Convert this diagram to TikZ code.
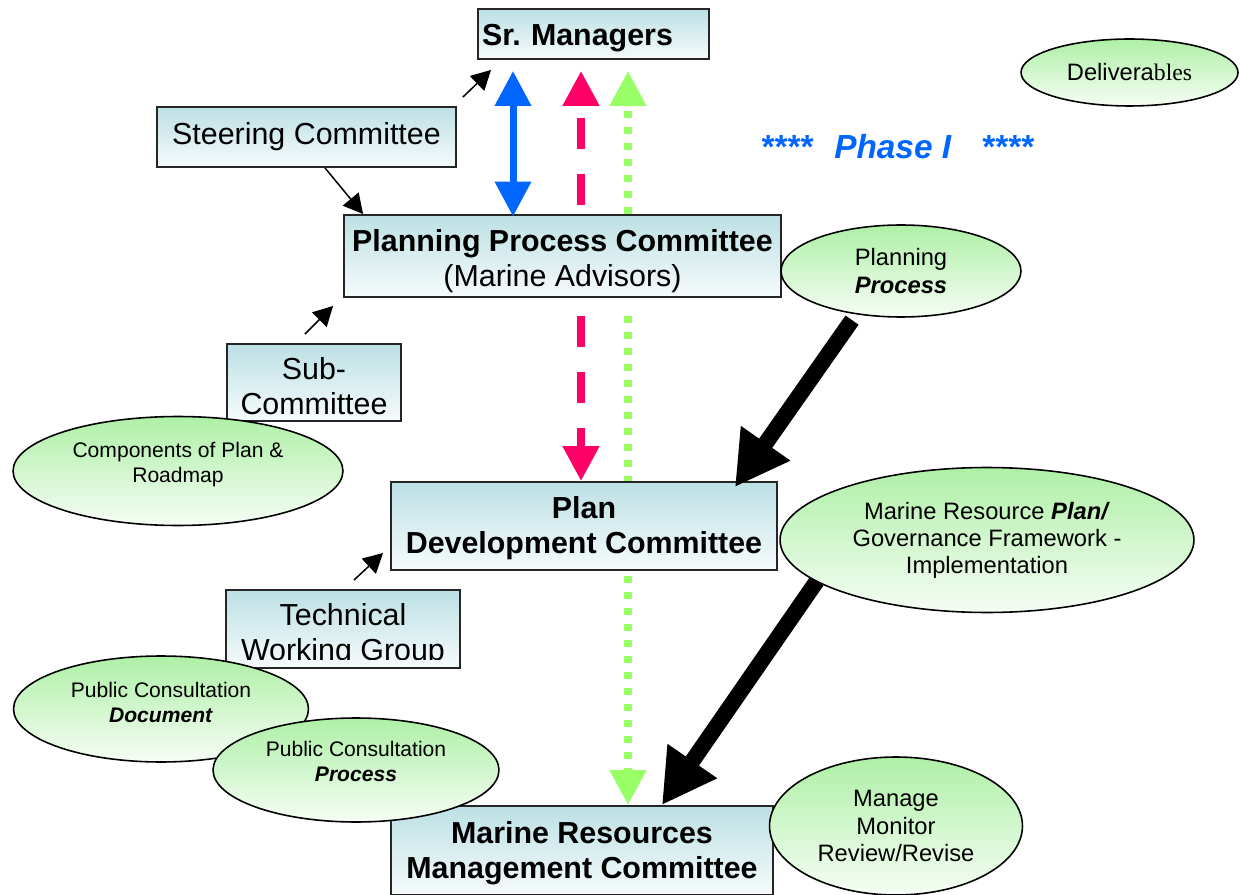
\documentclass[tikz,border=0pt]{standalone}
\usepackage{fontspec}
\setmainfont{Liberation Sans}
\newfontfamily\timesf{Liberation Serif}
\usetikzlibrary{arrows.meta,shapes.geometric}
\definecolor{boxtop}{RGB}{188,224,228}
\definecolor{boxbot}{RGB}{246,251,252}
\definecolor{elltop}{RGB}{174,240,166}
\definecolor{ellbot}{RGB}{246,253,245}
\definecolor{pblue}{RGB}{0,102,255}
\definecolor{ppink}{RGB}{255,0,102}
\definecolor{pgreen}{RGB}{153,255,102}
\tikzset{colhead/.tip={Triangle[length=0.7cm,width=0.7cm]}}
\begin{document}
\frenchspacing
\begin{tikzpicture}[x=0.02cm,y=-0.02cm,
  boxfont/.style={font=\fontsize{17.3}{20}\selectfont},
  boldboxfont/.style={font=\bfseries\fontsize{17.3}{20}\selectfont},
  cbox/.style={draw=black!85,line width=1.1pt,top color=boxtop,bottom color=boxbot,
    rectangle,inner sep=0pt,align=center,boxfont},
  dell/.style={draw=black,line width=0.9pt,top color=elltop,bottom color=ellbot,
    ellipse,inner sep=0pt,align=center,font=\fontsize{13.5}{15.4}\selectfont},
  sell/.style={dell,font=\fontsize{12}{14.2}\selectfont},
  smallarrow/.style={line width=0.85pt,-{Triangle[length=0.39cm,width=0.41cm]}},
  bigarrow/.style={line width=0.32cm,-{Triangle[length=1.07cm,width=1.13cm]}},
  pinkline/.style={ppink,line width=0.16cm,dash pattern=on 0.62cm off 0.5cm},
  greenline/.style={pgreen,line width=0.16cm,dash pattern=on 0.14cm off 0.18cm},
]
\useasboundingbox (0,0) rectangle (1241,895);

% boxes
\node[cbox,minimum width=4.62cm,minimum height=1.0cm,text width=4.46cm,align=left,boldboxfont,text height=0.6cm] (sr) at (593.5,34) {Sr.\ Managers};
\node[cbox,minimum width=5.98cm,minimum height=1.2cm] (steer) at (306.5,137) {Steering Committee};
\node[cbox,minimum width=8.74cm,minimum height=1.64cm,text height=1.34cm] (ppc) at (562.5,256) {\textbf{Planning Process Committee}\\(Marine Advisors)};
\node[cbox,minimum width=3.48cm,minimum height=1.54cm,text height=1.3cm] (sub) at (314,382.5) {Sub-\\Committee};
\node[cbox,minimum width=7.72cm,minimum height=1.76cm,boldboxfont,text height=1.22cm] (pdc) at (584,526) {Plan\\Development Committee};
\node[cbox,minimum width=4.68cm,minimum height=1.56cm] (tech) at (343,629) {};
\begin{scope}
  \clip (226,590) rectangle (460,659);
  \node[align=center,boxfont,inner sep=0pt] (techtext) at (343,635.5) {Technical\\Working Group};
\end{scope}
\node[cbox,minimum width=7.64cm,minimum height=1.78cm,boldboxfont,text height=1.26cm] (mrmc) at (582,850.5) {Marine Resources\\Management Committee};

% coloured vertical arrows
\coordinate (bx) at (513,0);
\coordinate (px) at (581,0);
\coordinate (gx) at (628,0);
\draw[pblue,line width=0.14cm,colhead-colhead,shorten <=0.22cm,shorten >=-0.05cm] (sr.south -| bx) -- (ppc.north -| bx);
\draw[pinkline,-colhead,shorten <=0.18cm,shorten >=0.22cm] (ppc.north -| px) -- (sr.south -| px);
\draw[pinkline,-colhead,shorten <=0.36cm] (ppc.south -| px) -- (pdc.north -| px);
\draw[greenline,-colhead,shorten >=0.22cm] (ppc.north -| gx) -- (sr.south -| gx);
\draw[greenline,shorten <=0.36cm] (ppc.south -| gx) -- (pdc.north -| gx);
\draw[greenline,-colhead,shorten <=0.1cm] (pdc.south -| gx) -- (mrmc.north -| gx);

% small black arrows
\draw[smallarrow] ([xshift=0.12cm,yshift=0.18cm]steer.north east) -- ([xshift=0.28cm,yshift=-0.2cm]sr.south west);
\draw[smallarrow] ([xshift=0.37cm]steer.south) -- ([xshift=0.4cm]ppc.north west);
\draw[smallarrow] ([xshift=-0.18cm,yshift=0.18cm]sub.north) -- ([xshift=-0.2cm,yshift=-0.16cm]ppc.south west);
\draw[smallarrow] ([xshift=0.22cm,yshift=0.18cm]tech.north) -- ([xshift=-0.14cm,yshift=0.36cm]pdc.south west);

% ellipses
\node[dell,minimum width=4.34cm,minimum height=1.34cm] (deliv) at (1129.5,72.5) {Delivera{\timesf bles}};
\node[dell,minimum width=4.8cm,minimum height=1.84cm] (pe) at (901,271) {Planning\\\textbf{\textit{Process}}};

% big black arrows (drawn before the ellipse that covers the start)
\coordinate (k2s) at (830,562);
\draw[bigarrow,shorten <=0.14cm] (pe.224) -- ([xshift=-0.86cm,yshift=-0.12cm]pdc.north east);
\draw[bigarrow] (k2s) -- ([xshift=-2.24cm]mrmc.north east);

\node[dell,minimum width=8.28cm,minimum height=2.9cm] (mre) at (987,540) {Marine Resource \textbf{\textit{Plan/}}\\Governance Framework -\\Implementation};
\node[dell,minimum width=5.06cm,minimum height=2.76cm] (mmr) at (896,826) {Manage\\Monitor\\Review/Revise};
\node[sell,minimum width=6.6cm,minimum height=2.18cm,text depth=0.33cm] (comp) at (178,471) {Components of Plan \&\\Roadmap};
\node[sell,minimum width=5.9cm,minimum height=2.12cm,text depth=0.26cm] (pcd) at (161,709) {Public Consultation\\\textbf{\textit{Document}}};
\node[sell,minimum width=5.72cm,minimum height=2.08cm,text depth=0.33cm] (pcp) at (356,770) {Public Consultation\\\textbf{\textit{Process}}};

% phase title
\node[text=pblue,font=\bfseries\itshape\fontsize{19}{22}\selectfont,anchor=base west,inner sep=0pt] (phase) at (760,159) {****\hspace{0.44cm}Phase I\hspace{0.6cm}****};
\end{tikzpicture}
\end{document}
